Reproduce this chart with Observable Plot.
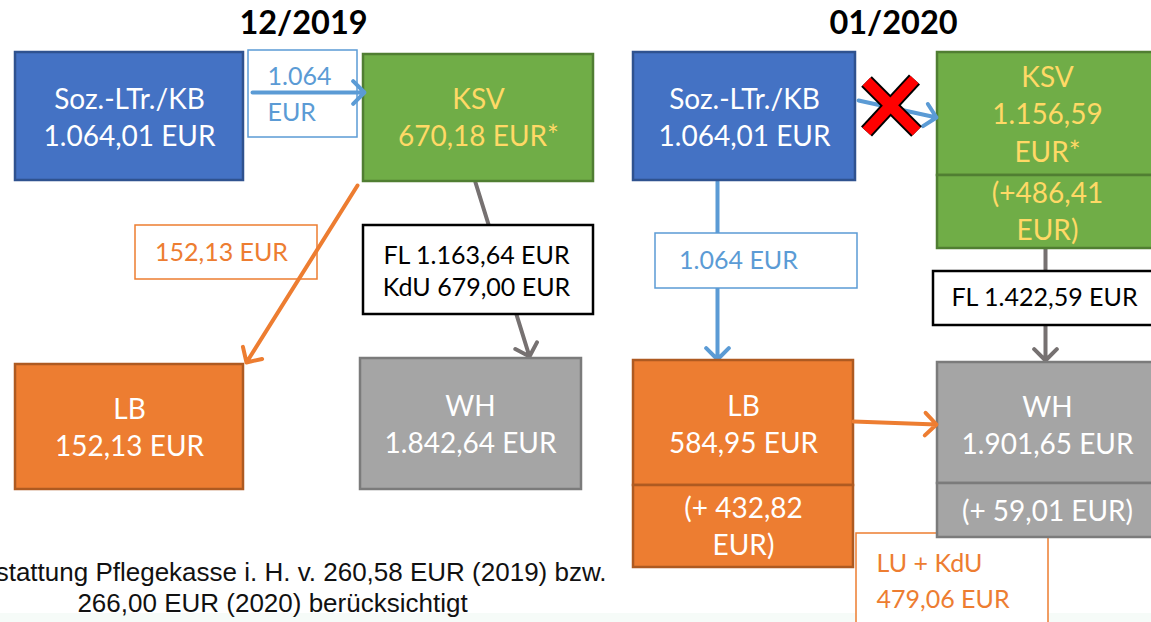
<!DOCTYPE html>
<html>
<head>
<meta charset="utf-8">
<script src="https://cdn.jsdelivr.net/npm/d3@7"></script>
<script src="https://cdn.jsdelivr.net/npm/@observablehq/plot@0.6"></script>
<style>
  html, body { margin: 0; padding: 0; background: #fff; overflow: hidden; }
  #chart svg { display: block; }
</style>
</head>
<body>
<div id="chart"></div>
<script>
// ---------- data ----------
const periods = ["12/2019", "01/2020"];
const nodeNames = ["Soz.-LTr./KB", "KSV", "LB", "WH"];
const values2019 = ["1.064,01 EUR", "670,18 EUR*", "152,13 EUR", "1.842,64 EUR"];
const values2020 = ["1.064,01 EUR", "1.156,59\nEUR*", "584,95 EUR", "1.901,65 EUR"];
const increases2020 = ["(+486,41\nEUR)", "(+ 432,82\nEUR)", "(+ 59,01 EUR)"];
const flowLabels2019 = ["1.064\nEUR", "152,13 EUR", "FL 1.163,64 EUR\nKdU 679,00 EUR"];
const flowLabels2020 = ["1.064 EUR", "FL 1.422,59 EUR", "LU + KdU\n479,06 EUR"];
const footnoteLines = ["*Erstattung Pflegekasse i. H. v. 260,58 EUR (2019) bzw.", "266,00 EUR (2020) berücksichtigt"];

// ---------- layout (diagram geometry) ----------
const C = {
  blue: "#4472C4", blueB: "#2F528F",
  green: "#70AD47", greenB: "#507E32",
  orange: "#ED7D31", orangeB: "#AE5A21",
  gray: "#A5A5A5", grayB: "#7B7B7B",
  lblue: "#5B9BD5", yellow: "#FFD966", arrowGray: "#767171"
};

const nodeBoxes = [
  {x1: 15, x2: 243, y1: 52, y2: 180, fill: C.blue, stroke: C.blueB},
  {x1: 363, x2: 593, y1: 54, y2: 181, fill: C.green, stroke: C.greenB},
  {x1: 15, x2: 243, y1: 364, y2: 489, fill: C.orange, stroke: C.orangeB},
  {x1: 360, x2: 581, y1: 358, y2: 489, fill: C.gray, stroke: C.grayB},
  {x1: 633, x2: 855, y1: 52, y2: 180, fill: C.blue, stroke: C.blueB},
  {x1: 937, x2: 1160, y1: 52, y2: 175, fill: C.green, stroke: C.greenB},
  {x1: 937, x2: 1160, y1: 175, y2: 248, fill: C.green, stroke: C.greenB},
  {x1: 633, x2: 853, y1: 360, y2: 485, fill: C.orange, stroke: C.orangeB},
  {x1: 633, x2: 853, y1: 485, y2: 567, fill: C.orange, stroke: C.orangeB},
  {x1: 937, x2: 1160, y1: 362, y2: 483, fill: C.gray, stroke: C.grayB},
  {x1: 937, x2: 1160, y1: 483, y2: 537, fill: C.gray, stroke: C.grayB}
];

const nodeTexts = [
  {x: 129, y: 115, t: nodeNames[0] + "\n" + values2019[0], c: "#fff"},
  {x: 478, y: 115, t: nodeNames[1] + "\n" + values2019[1], c: C.yellow},
  {x: 129, y: 425, t: nodeNames[2] + "\n" + values2019[2], c: "#fff"},
  {x: 470, y: 422, t: nodeNames[3] + "\n" + values2019[3], c: "#fff"},
  {x: 744, y: 115, t: nodeNames[0] + "\n" + values2020[0], c: "#fff"},
  {x: 1047, y: 112, t: nodeNames[1] + "\n" + values2020[1], c: C.yellow},
  {x: 1047, y: 209, t: increases2020[0], c: C.yellow},
  {x: 743, y: 422, t: nodeNames[2] + "\n" + values2020[2], c: "#fff"},
  {x: 743, y: 524, t: increases2020[1], c: "#fff"},
  {x: 1047, y: 423, t: nodeNames[3] + "\n" + values2020[3], c: "#fff"},
  {x: 1047, y: 509, t: increases2020[2], c: "#fff"}
];

// label boxes drawn before arrows (arrow on top)
const labelBoxesUnder = [
  {x1: 248, x2: 357, y1: 50, y2: 137, stroke: C.lblue, sw: 1.5},
  {x1: 135, x2: 317, y1: 225, y2: 279, stroke: C.orange, sw: 1.5}
];
// label boxes drawn after arrows (covering them)
const labelBoxesOver = [
  {x1: 363, x2: 593, y1: 225, y2: 314, stroke: "#000", sw: 2.5},
  {x1: 655, x2: 857, y1: 233, y2: 288, stroke: C.lblue, sw: 1.5},
  {x1: 933, x2: 1160, y1: 271, y2: 325, stroke: "#000", sw: 2.5},
  {x1: 856, x2: 1048, y1: 533, y2: 640, stroke: C.orange, sw: 1.5}
];

const labelTextsCentered = [
  {x: 221, y: 250, t: flowLabels2019[1], c: C.orange},
  {x: 476, y: 269, t: flowLabels2019[2], c: "#000"},
  {x: 738, y: 258, t: flowLabels2020[0], c: C.lblue},
  {x: 1044, y: 295, t: flowLabels2020[1], c: "#000"}
];
const labelTextsLeft = [
  {x: 267, y: 91, t: flowLabels2019[0], c: C.lblue},
  {x: 876, y: 578, t: flowLabels2020[2], c: C.orange}
];

const arrowsUnder = [
  {x1: 475, y1: 182, x2: 529, y2: 356, c: C.arrowGray},
  {x1: 717, y1: 181, x2: 717, y2: 359, c: C.lblue},
  {x1: 1045, y1: 248, x2: 1045, y2: 360, c: C.arrowGray}
];
const arrowsOver = [
  {x1: 252, y1: 92, x2: 364, y2: 92, c: C.lblue},
  {x1: 357, y1: 185, x2: 246, y2: 362, c: C.orange},
  {x1: 858, y1: 100, x2: 936, y2: 117, c: C.lblue},
  {x1: 853, y1: 421, x2: 936, y2: 424, c: C.orange}
];

const crossLines = [
  {x1: 866, y1: 81, x2: 916, y2: 131},
  {x1: 914, y1: 79, x2: 866, y2: 131}
];

const titles = [
  {x: 303, y: 23, t: periods[0]},
  {x: 893, y: 23, t: periods[1]}
];

const FONT = "Lato, 'Open Sans', sans-serif";
const FOOT = "'Liberation Sans', Arial, sans-serif";

const chart = Plot.plot({
  width: 1151,
  height: 622,
  margin: 0,
  style: {fontFamily: FONT, background: "#fff", overflow: "hidden"},
  x: {domain: [0, 1151], range: [0, 1151], axis: null},
  y: {domain: [0, 622], range: [0, 622], axis: null},
  marks: [
    Plot.rect([{x1: 0, x2: 1151, y1: 613, y2: 622}], {x1: "x1", x2: "x2", y1: "y1", y2: "y2", fill: "#f6fbf8"}),
    Plot.rect(labelBoxesUnder, {x1: "x1", x2: "x2", y1: "y1", y2: "y2", fill: "#fff", stroke: "stroke", strokeWidth: d => d.sw}),
    Plot.arrow(arrowsUnder, {x1: "x1", y1: "y1", x2: "x2", y2: "y2", stroke: "c", strokeWidth: 4, headLength: 6, headAngle: 90}),
    Plot.rect(labelBoxesOver, {x1: "x1", x2: "x2", y1: "y1", y2: "y2", fill: "#fff", stroke: "stroke", strokeWidth: d => d.sw}),
    Plot.rect(nodeBoxes, {x1: "x1", x2: "x2", y1: "y1", y2: "y2", fill: "fill", stroke: "stroke", strokeWidth: 2.5}),
    Plot.arrow(arrowsOver, {x1: "x1", y1: "y1", x2: "x2", y2: "y2", stroke: "c", strokeWidth: 4, headLength: 6, headAngle: 90}),
    Plot.link(crossLines, {x1: "x1", y1: "y1", x2: "x2", y2: "y2", stroke: "#000", strokeWidth: 15, strokeLinecap: "butt"}),
    Plot.link(crossLines, {x1: "x1", y1: "y1", x2: "x2", y2: "y2", stroke: "#FF0000", strokeWidth: 11, strokeLinecap: "butt", insetStart: 2, insetEnd: 2}),
    Plot.text(nodeTexts, {x: "x", y: "y", text: "t", fill: "c", fontSize: 28, lineHeight: 1.33, textAnchor: "middle"}),
    Plot.text(labelTextsCentered, {x: "x", y: "y", text: "t", fill: "c", fontSize: 25, lineHeight: 1.28, textAnchor: "middle"}),
    Plot.text(labelTextsLeft, {x: "x", y: "y", text: "t", fill: "c", fontSize: 25, lineHeight: 1.42, textAnchor: "start"}),
    Plot.text(titles, {x: "x", y: "y", text: "t", fill: "#000", fontSize: 32.5, fontWeight: "bold"}),
    Plot.text([{x: 606, y: 572, t: footnoteLines[0]}], {x: "x", y: "y", text: "t", fill: "#111", fontSize: 26, fontFamily: FOOT, textAnchor: "end"}),
    Plot.text([{x: 272, y: 603, t: footnoteLines[1]}], {x: "x", y: "y", text: "t", fill: "#111", fontSize: 26, fontFamily: FOOT, textAnchor: "middle"})
  ]
});
document.getElementById("chart").appendChild(chart);
</script>
</body>
</html>
